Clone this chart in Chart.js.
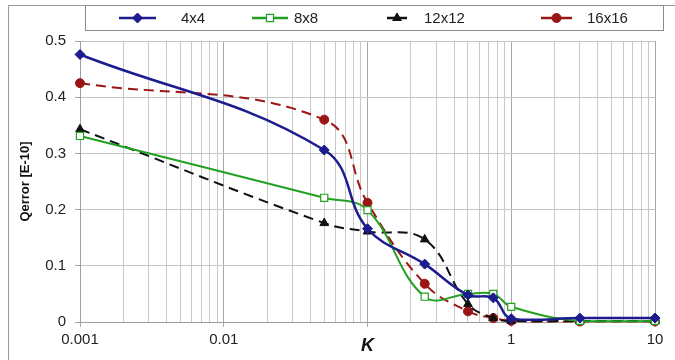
<!DOCTYPE html>
<html>
<head>
<meta charset="utf-8">
<script src="https://cdn.jsdelivr.net/npm/chart.js@4"></script>
<style>
  html, body { margin: 0; padding: 0; background: #fff; }
  #wrap { width: 675px; height: 360px; position: relative; }
</style>
</head>
<body>
<div id="wrap"><canvas id="chart" width="675" height="360"></canvas></div>
<script>
// K values (log axis)
const kValues = [0.001, 0.05, 0.1, 0.25, 0.5, 0.75, 1, 3, 10];

// Qerror [E-10] per grid size
const err4x4 = [0.476, 0.306, 0.166, 0.103, 0.048, 0.043, 0.006, 0.007, 0.007];
const err8x8 = [0.331, 0.221, 0.199, 0.045, 0.050, 0.050, 0.027, 0.002, 0.002];
const err12x12 = [0.343, 0.176, 0.161, 0.147, 0.032, 0.007, 0.002, 0.002, 0.002];
const err16x16 = [0.425, 0.360, 0.212, 0.068, 0.019, 0.007, 0.002, 0.001, 0.001];

const seriesNames = ['4x4', '8x8', '12x12', '16x16'];
const xTickLabels = ['0.001', '0.01', '', '1', '10'];

function toPoints(ys) {
    return kValues.map((k, i) => ({ x: k, y: ys[i] }));
}

// 图例：线段 + 标记，放在顶部的方框里
const lineLegend = {
    id: 'lineLegend',
    beforeDraw(chart) {
        const ctx = chart.ctx;
        ctx.save();
        ctx.fillStyle = '#fff';
        ctx.fillRect(0, 0, chart.width, chart.height);
        // 外框
        ctx.strokeStyle = '#9a9a9a';
        ctx.lineWidth = 1;
        ctx.beginPath();
        ctx.moveTo(8.5, 360);
        ctx.lineTo(8.5, 5.5);
        ctx.lineTo(675, 5.5);
        ctx.stroke();
        ctx.restore();
    },
    afterDraw(chart) {
        const ctx = chart.ctx;
        ctx.save();
        ctx.strokeStyle = '#8c8c8c';
        ctx.lineWidth = 1;
        ctx.strokeRect(85.5, 5.5, 578, 25);

        const slots = [
            { x0: 119, x1: 156, tx: 181 },
            { x0: 252, x1: 288, tx: 294 },
            { x0: 387, x1: 407, tx: 424 },
            { x0: 541, x1: 572, tx: 587 }
        ];
        const y = 18;
        chart.data.datasets.forEach((ds, i) => {
            const s = slots[i];
            ctx.setLineDash([]);
            ctx.strokeStyle = ds.borderColor;
            ctx.lineWidth = 2.5;
            ctx.beginPath();
            ctx.moveTo(s.x0, y);
            ctx.lineTo(s.x1, y);
            ctx.stroke();

            ctx.fillStyle = ds.pointBackgroundColor;
            ctx.strokeStyle = ds.pointBorderColor;
            ctx.lineWidth = ds.pointBorderWidth;
            Chart.helpers.drawPoint(ctx, {
                pointStyle: ds.pointStyle,
                radius: ds.pointRadius,
                rotation: 0,
                borderWidth: ds.pointBorderWidth
            }, (s.x0 + s.x1) / 2, y);

            ctx.fillStyle = '#222';
            ctx.font = '15px "Liberation Sans", Arial, sans-serif';
            ctx.textBaseline = 'middle';
            ctx.fillText(ds.label, s.tx, y + 1);
        });
        ctx.restore();
    }
};

const datasets = [
    {
        label: seriesNames[0],
        data: toPoints(err4x4),
        borderColor: '#1c1c8f',
        pointBackgroundColor: '#1c1c8f',
        pointBorderColor: '#1c1c8f',
        pointStyle: 'rectRot',
        pointRadius: 5,
        pointBorderWidth: 1,
        borderWidth: 2.5
    },
    {
        label: seriesNames[1],
        data: toPoints(err8x8),
        borderColor: '#22a022',
        pointBackgroundColor: '#ffffff',
        pointBorderColor: '#22a022',
        pointStyle: 'rect',
        pointRadius: 5,
        pointBorderWidth: 1.2,
        borderWidth: 2
    },
    {
        label: seriesNames[2],
        data: toPoints(err12x12),
        borderColor: '#111111',
        pointBackgroundColor: '#111111',
        pointBorderColor: '#111111',
        pointStyle: 'triangle',
        pointRadius: 5,
        pointBorderWidth: 1,
        borderWidth: 2,
        borderDash: [10, 6]
    },
    {
        label: seriesNames[3],
        data: toPoints(err16x16),
        borderColor: '#9c1515',
        pointBackgroundColor: '#9c1515',
        pointBorderColor: '#9c1515',
        pointStyle: 'circle',
        pointRadius: 4.5,
        pointBorderWidth: 1,
        borderWidth: 2,
        borderDash: [10, 6]
    }
];

// 对数轴刻度：1..9 × 10^n
const logTicks = [];
for (let e = -3; e <= 1; e++) {
    for (let m = 1; m <= 9; m++) {
        const v = m * Math.pow(10, e);
        if (v <= 10.0001) logTicks.push(+v.toPrecision(3));
    }
}
const decades = [0.001, 0.01, 0.1, 1, 10];
const isDecade = v => decades.some(d => Math.abs(d - v) < 1e-9);

const chart = new Chart(document.getElementById('chart'), {
    type: 'line',
    data: { datasets: datasets },
    plugins: [lineLegend],
    options: {
        responsive: false,
        animation: false,
        clip: false,
        layout: { padding: { left: 18, right: 20, top: 41, bottom: 0 } },
        elements: { line: { tension: 0.4, fill: false } },
        plugins: { legend: { display: false }, tooltip: { enabled: false } },
        scales: {
            x: {
                type: 'logarithmic',
                min: 0.001,
                max: 10,
                afterBuildTicks(scale) {
                    scale.ticks = logTicks.map(v => ({ value: v }));
                },
                afterFit(scale) { scale.height = 38; },
                ticks: {
                    autoSkip: false,
                    maxRotation: 0,
                    padding: 4,
                    color: '#222',
                    font: { size: 15, family: '"Liberation Sans", Arial, sans-serif' },
                    callback(value) {
                        const idx = decades.findIndex(d => Math.abs(d - value) < 1e-9);
                        return idx >= 0 ? xTickLabels[idx] : '';
                    }
                },
                grid: {
                    color: c => (c.tick && isDecade(c.tick.value)) ? '#a8a8a8' : '#c8c8c8',
                    tickColor: c => (c.tick && isDecade(c.tick.value)) ? '#a8a8a8' : 'rgba(0,0,0,0)',
                    tickLength: 5,
                    lineWidth: 1
                },
                border: { color: '#a0a0a0' },
                title: {
                    display: true,
                    text: 'K',
                    color: '#111',
                    font: { size: 18, weight: 'bold', style: 'italic', family: '"Liberation Sans", Arial, sans-serif' },
                    padding: { top: -24, bottom: 3 }
                }
            },
            y: {
                min: 0,
                max: 0.5,
                afterFit(scale) { scale.width = 62; },
                ticks: {
                    stepSize: 0.1,
                    padding: 9,
                    color: '#222',
                    font: { size: 15, family: '"Liberation Sans", Arial, sans-serif' },
                    callback: value => +value.toFixed(1) + ''
                },
                grid: { color: '#c4c4c4', tickColor: '#a8a8a8', tickLength: 5 },
                border: { color: '#a0a0a0' },
                title: {
                    display: true,
                    text: 'Qerror [E-10]',
                    color: '#111',
                    font: { size: 13, weight: 'bold', family: '"Liberation Sans", Arial, sans-serif' },
                    padding: { top: 0, bottom: 0 }
                }
            }
        }
    }
});
</script>
</body>
</html>
